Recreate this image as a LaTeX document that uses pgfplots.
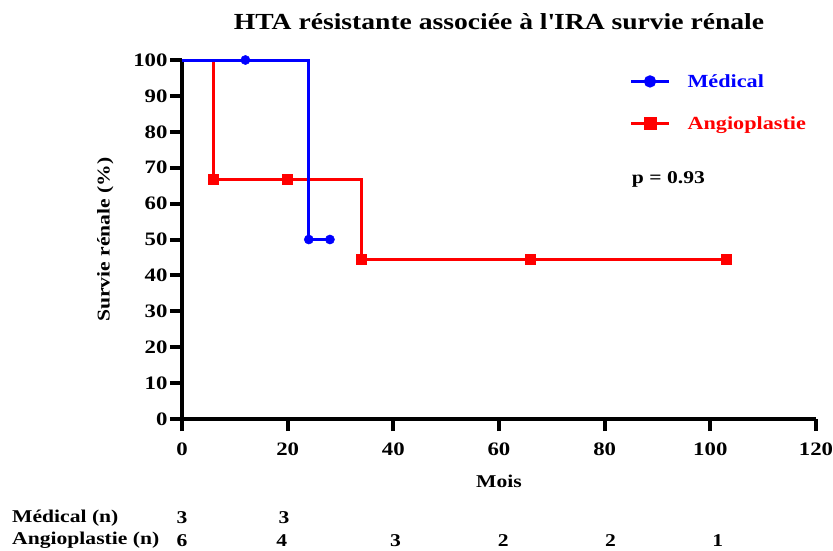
\documentclass[border=0pt]{standalone}
\usepackage{pgfplots}
\pgfplotsset{compat=1.18}
\usepackage{fontspec}
\setmainfont[FakeStretch=1.2]{Liberation Serif}
\definecolor{kmblue}{RGB}{0,0,255}
\definecolor{kmred}{RGB}{255,0,0}

\begin{document}
\begin{tikzpicture}
\useasboundingbox (-182pt,-131pt) rectangle (651pt,419pt);
\begin{axis}[
    at={(0pt,0pt)}, anchor=south west,
    scale only axis,
    width=634pt, height=359pt,
    xmin=0, xmax=120, ymin=0, ymax=100,
    xtick={0,20,...,120},
    ytick={0,10,...,100},
    axis lines=left,
    axis line style={-, line width=4.5pt},
    tick align=outside,
    major tick length=12pt,
    tick style={line width=4pt, black},
    minor tick num=0,
    clip=false,
    /pgf/number format/assume math mode=true,
    ticklabel style={font=\fontsize{19}{20}\selectfont\bfseries},
    xticklabel style={yshift=-8pt},
    yticklabel style={xshift=1pt},
    title={\textbf{HTA résistante associée à l\textquotesingle IRA survie rénale}},
    title style={font=\fontsize{23}{26}\selectfont, at={(0.5,1)}, yshift=21pt},
    xlabel={\textbf{Mois}},
    ylabel={\textbf{Survie rénale (\%)}},
    xlabel style={font=\fontsize{18}{20}\selectfont, yshift=-13pt},
    ylabel style={font=\fontsize{18}{20}\selectfont, yshift=13pt},
    legend style={at={(axis cs:84.1,97.2)}, anchor=north west, draw=none,
        fill=none, font=\fontsize{18.5}{20}\selectfont\bfseries,
        row sep=24pt, column sep=15pt},
    legend cell align=left,
    legend image code/.code={
        \draw[mark repeat=2,mark phase=2] plot coordinates {(0pt,0pt) (19pt,0pt) (38pt,0pt)};
    },
]
% Angioplastie step curve
\addplot[kmred, line width=3pt, mark=none, forget plot] coordinates {
    (0,100) (6,100) (6,66.67) (34,66.67) (34,44.44) (103,44.44)
};
\addplot[kmred, only marks, mark=square*, mark size=5pt, forget plot] coordinates {
    (6,66.67) (20,66.67) (34,44.44) (66,44.44) (103,44.44)
};
% Medical step curve
\addplot[kmblue, line width=3pt, mark=none, forget plot] coordinates {
    (0,100) (24,100) (24,50) (28,50)
};
\addplot[kmblue, only marks, mark=*, mark size=4.6pt, forget plot] coordinates {
    (12,100) (24,50) (28,50)
};
\addlegendimage{kmblue, line width=3pt, mark=*, mark size=4.6pt}
\addlegendentry{\textcolor{kmblue}{Médical}}
\addlegendimage{kmred, line width=3pt, mark=square*, mark size=5pt}
\addlegendentry{\textcolor{kmred}{Angioplastie}}

\node[anchor=west, font=\fontsize{18}{20}\selectfont\bfseries] at (axis cs:84.5,66.8) {p = 0.93};

% numbers at risk
\node[anchor=west, font=\fontsize{18}{20}\selectfont\bfseries] at (axis cs:-32.8,-27.6) {Médical (n)};
\node[anchor=west, font=\fontsize{18}{20}\selectfont\bfseries] at (axis cs:-32.8,-33.8) {Angioplastie (n)};
\node[font=\fontsize{18}{20}\selectfont\bfseries] at (axis cs:0,-27.6) {3};
\node[font=\fontsize{18}{20}\selectfont\bfseries] at (axis cs:19.3,-27.6) {3};
\node[font=\fontsize{18}{20}\selectfont\bfseries] at (axis cs:0,-33.8) {6};
\node[font=\fontsize{18}{20}\selectfont\bfseries] at (axis cs:18.9,-33.8) {4};
\node[font=\fontsize{18}{20}\selectfont\bfseries] at (axis cs:40.4,-33.8) {3};
\node[font=\fontsize{18}{20}\selectfont\bfseries] at (axis cs:60.8,-33.8) {2};
\node[font=\fontsize{18}{20}\selectfont\bfseries] at (axis cs:81.1,-33.8) {2};
\node[font=\fontsize{18}{20}\selectfont\bfseries] at (axis cs:101.4,-33.8) {1};
\end{axis}
\end{tikzpicture}
\end{document}
